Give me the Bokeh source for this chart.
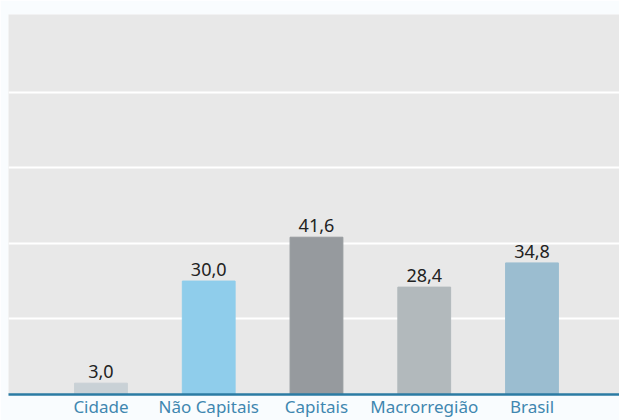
from bokeh.plotting import figure
from bokeh.models import ColumnDataSource, FixedTicker, Range1d
from bokeh.core.properties import value
from bokeh.embed import file_html
from bokeh.resources import INLINE

categories = ["Cidade", "Não Capitais", "Capitais", "Macrorregião", "Brasil"]
values = [3.0, 30.0, 41.6, 28.4, 34.8]
colors = ["#c9d1d6", "#8fcdeb", "#969a9e", "#b2b9bc", "#9bbdd0"]
grid_ticks = [20, 40, 60, 80]

xs = list(range(len(categories)))
labels = [f"{v:.1f}".replace(".", ",") for v in values]
src = ColumnDataSource(dict(x=xs, top=values, color=colors, label=labels))

p = figure(width=619, height=420, output_backend="svg", toolbar_location=None,
           x_range=Range1d(-0.858, 4.812), y_range=Range1d(0, 100.5),
           min_border_left=8, min_border_right=0, min_border_top=14, min_border_bottom=20)

p.background_fill_color = "#e8e8e8"
p.border_fill_color = "#f9fcfe"
p.outline_line_color = None

p.vbar(x="x", top="top", bottom=0, width=0.49, color="color", source=src)
p.text(x="x", y="top", text="label", source=src, text_align="center", text_baseline="bottom",
       y_offset=-5, text_font=value("Noto Sans"), text_font_size="18px", text_color="#222222")

p.yaxis.visible = False
p.xgrid.visible = False
p.ygrid.ticker = FixedTicker(ticks=grid_ticks)
p.ygrid.grid_line_color = "#ffffff"
p.ygrid.grid_line_width = 2

xa = p.xaxis[0]
xa.ticker = FixedTicker(ticks=xs)
xa.major_label_overrides = {i: c for i, c in zip(xs, categories)}
xa.axis_line_color = "#2b7ba3"
xa.axis_line_width = 2.5
xa.major_tick_line_color = None
xa.minor_tick_line_color = None
xa.major_tick_out = 0
xa.major_tick_in = 0
xa.major_label_standoff = 0
xa.major_label_text_font = "Noto Sans"
xa.major_label_text_font_size = "17px"
xa.major_label_text_color = "#3f87b0"

open("out.html", "w").write(file_html(p, INLINE))
